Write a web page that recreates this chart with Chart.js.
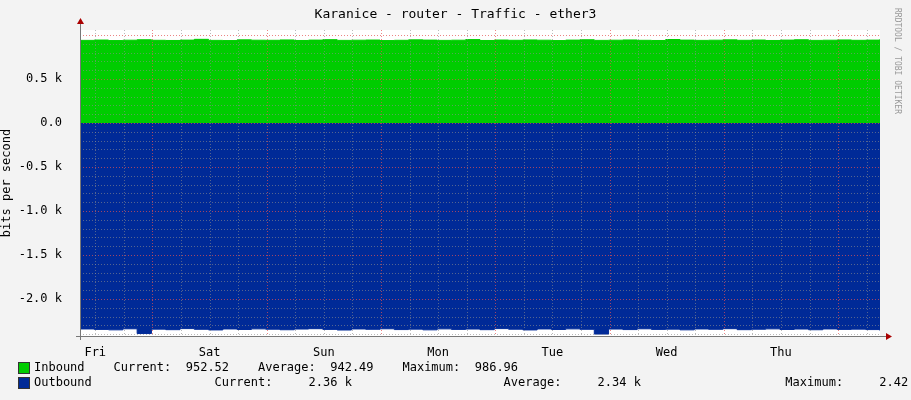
<!DOCTYPE html>
<html><head><meta charset="utf-8">
<script src="https://cdn.jsdelivr.net/npm/chart.js@4"></script>
<style>
body{margin:0;background:#f3f3f3;font-family:"DejaVu Sans Mono",monospace;}
#wrap{position:relative;width:911px;height:400px;}
.t{position:absolute;font-size:12px;color:#000;white-space:pre;}
.sw{position:absolute;width:10px;height:10px;border:1px solid #333;}
</style></head><body>
<div id="wrap">
<canvas id="c" width="911" height="400"></canvas>
<div class="t" style="left:0;width:911px;text-align:center;top:6px;font-size:13px">Karanice - router - Traffic - ether3</div>
<div class="t" style="left:893px;top:8px;font-size:8px;color:#999;writing-mode:vertical-rl">RRDTOOL / TOBI OETIKER</div>
<div class="sw" style="left:18px;top:362px;background:#00cc00"></div>
<div class="t" style="left:34px;top:360px">Inbound    Current:  952.52    Average:  942.49    Maximum:  986.96</div>
<div class="sw" style="left:18px;top:377px;background:#002a97"></div>
<div class="t" style="left:34px;top:375px">Outbound                 Current:     2.36 k                     Average:     2.34 k                    Maximum:     2.42 k</div>
</div>
<script>
const hours = [];
for (let h = 8.8; h <= 176.9; h += 3) hours.push(+h.toFixed(1));
const inbound = [938,942,936,940,945,939,937,941,950,938,936,944,940,939,943,937,941,946,938,940,942,936,939,944,941,938,940,947,937,942,939,943,940,936,941,945,938,940,943,939,937,948,941,938,940,944,939,942,937,941,945,938,940,943,939,941,952];
const outbound = [2340,2345,2350,2338,2392,2342,2348,2336,2344,2351,2340,2346,2339,2343,2349,2341,2337,2345,2352,2340,2344,2338,2347,2342,2350,2339,2345,2341,2348,2336,2343,2351,2340,2346,2339,2344,2398,2341,2347,2338,2345,2342,2350,2340,2344,2337,2348,2343,2339,2346,2341,2349,2340,2345,2342,2347,2360];
const dayNames = ["Fri","Sat","Sun","Mon","Tue","Wed","Thu"];
const yTickLabels = {"500":"0.5 k","0":"0.0","-500":"-0.5 k","-1000":"-1.0 k","-1500":"-1.5 k","-2000":"-2.0 k"};

const mono = {family:"DejaVu Sans Mono", size:12};
const overlay = {
  id:'overlay',
  afterDatasetsDraw(chart){
    const {ctx, chartArea:a, scales:{x,y}} = chart;
    ctx.save();
    ctx.lineWidth = 1; ctx.setLineDash([1,2]);
    for (let v = -2400; v <= 1000; v += 100) {
      const py = Math.round(y.getPixelForValue(v)) + 0.5;
      ctx.strokeStyle = (v % 500 === 0) ? 'rgba(230,80,80,0.7)' : 'rgba(140,140,140,0.6)';
      ctx.beginPath(); ctx.moveTo(a.left, py); ctx.lineTo(a.right, py); ctx.stroke();
    }
    for (let h = 12; h < 177; h += 6) {
      const px = Math.round(x.getPixelForValue(h)) + 0.5;
      ctx.strokeStyle = (h % 24 === 0) ? 'rgba(230,80,80,0.7)' : 'rgba(140,140,140,0.6)';
      ctx.beginPath(); ctx.moveTo(px, a.top); ctx.lineTo(px, a.bottom); ctx.stroke();
    }
    ctx.setLineDash([]);
    ctx.strokeStyle = '#777';
    ctx.beginPath(); ctx.moveTo(a.left+0.5, a.top-6); ctx.lineTo(a.left+0.5, a.bottom+4);
    ctx.moveTo(a.left-4, a.bottom+0.5); ctx.lineTo(a.right+6, a.bottom+0.5); ctx.stroke();
    ctx.fillStyle = '#a00';
    ctx.beginPath(); ctx.moveTo(a.left-3, a.top-6); ctx.lineTo(a.left+4, a.top-6); ctx.lineTo(a.left+0.5, a.top-12); ctx.fill();
    ctx.beginPath(); ctx.moveTo(a.right+6, a.bottom-3); ctx.lineTo(a.right+6, a.bottom+4); ctx.lineTo(a.right+12, a.bottom+0.5); ctx.fill();
    ctx.restore();
  },
  beforeDatasetsDraw(chart){
    const {ctx, chartArea:a} = chart;
    ctx.save(); ctx.fillStyle='#fff'; ctx.fillRect(a.left,a.top,a.right-a.left,a.bottom-a.top); ctx.restore();
  }
};

new Chart(document.getElementById('c'), {
  type:'line',
  data:{datasets:[
    {data:hours.map((h,i)=>({x:h,y:inbound[i]})), fill:'origin', backgroundColor:'#00cc00', borderColor:'#00cc00', borderWidth:1, pointRadius:0, stepped:true},
    {data:hours.map((h,i)=>({x:h,y:-outbound[i]})), fill:'origin', backgroundColor:'#002a97', borderColor:'#002a97', borderWidth:1, pointRadius:0, stepped:true}
  ]},
  plugins:[overlay],
  options:{
    responsive:false, animation:false,
    layout:{padding:{top:30,right:31,left:0,bottom:0}},
    plugins:{legend:{display:false}, tooltip:{enabled:false}},
    scales:{
      x:{type:'linear', min:8.8, max:176.8, grid:{display:false}, border:{display:false},
        afterBuildTicks(s){ s.ticks = [12,36,60,84,108,132,156].map(v=>({value:v})); },
        afterFit(s){ s.height = 64; },
        ticks:{color:'#000', font:mono, maxRotation:0, autoSkip:false, padding:2,
          callback:(v)=>dayNames[Math.round((v-12)/24)]}},
      y:{min:-2420, max:1056, grid:{display:false}, border:{display:false},
        afterBuildTicks(s){ s.ticks = Object.keys(yTickLabels).map(v=>({value:+v})); },
        afterFit(s){ s.width = 80; },
        title:{display:true, text:'bits per second', color:'#000', font:mono, padding:0},
        ticks:{color:'#000', font:mono, autoSkip:false, padding:10, callback:(v)=>yTickLabels[String(v)]}}
    }
  }
});
</script>
</body></html>
